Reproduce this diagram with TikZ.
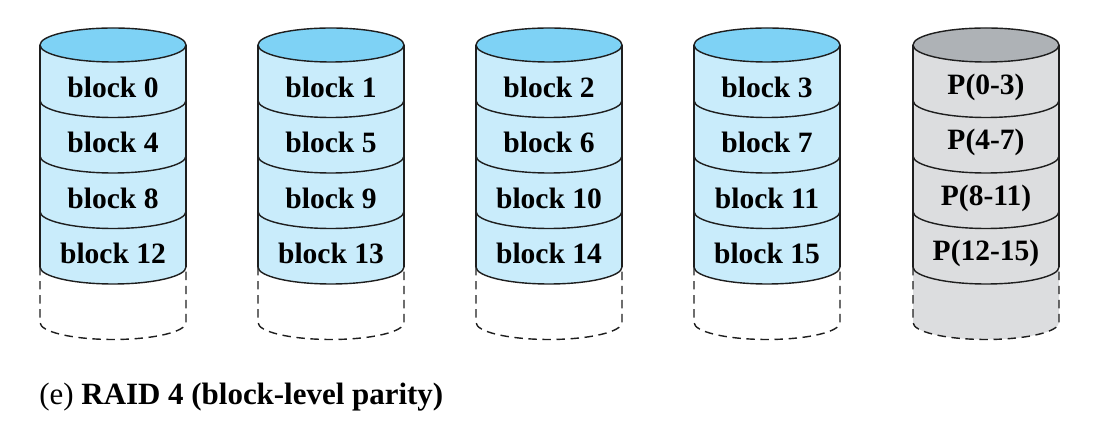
\documentclass[tikz,border=0pt]{standalone}
\usepackage{fontspec}
\setmainfont{Liberation Serif}
\usepackage{tikz}
\usetikzlibrary{positioning}
\usepackage{xcolor}
\definecolor{disktop}{HTML}{7ED2F5}
\definecolor{diskbody}{HTML}{C9ECFB}
\definecolor{paritytop}{HTML}{AEB2B6}
\definecolor{paritybody}{HTML}{DCDDDF}
\definecolor{diskrim}{HTML}{1E1E1E}

\begin{document}
\begin{tikzpicture}[x=0.025cm, y=0.025cm, line width=1pt,
  blocklbl/.style={font=\fontsize{21}{25}\selectfont\bfseries, text=black},
  spare/.style={dash pattern=on 6pt off 4pt}]
\useasboundingbox (0,0) rectangle (1110,426);
% four data disks
\foreach \d in {0,...,3} {
  \pgfmathsetmacro{\cx}{113+218*\d}
  \fill[diskbody] (\cx-73,381) -- (\cx-73,159) arc (180:360:73 and 17) -- (\cx+73,381) -- cycle;
  \draw[diskrim, spare] (\cx-73,159) -- (\cx-73,103.5) arc (180:360:73 and 17) -- (\cx+73,159);
  \draw[diskrim, fill=disktop] (\cx,381) ellipse (73 and 17);
  \foreach \r in {1,...,4}
    \draw[diskrim] (\cx-73,381-55.5*\r) arc (180:360:73 and 17);
  \draw[diskrim] (\cx-73,381) -- (\cx-73,159) (\cx+73,381) -- (\cx+73,159);
  \foreach \r in {0,...,3} {
    \pgfmathtruncatemacro{\b}{4*\r+\d}
    \node[blocklbl] (blk\b) at (\cx,381-55.5*\r-42) {block \b};
  }
}
% parity disk
\fill[paritybody] (913,381) -- (913,103.5) arc (180:360:73 and 17) -- (1059,381) -- cycle;
\draw[diskrim, spare] (913,159) -- (913,103.5) arc (180:360:73 and 17) -- (1059,159);
\draw[diskrim, fill=paritytop] (986,381) ellipse (73 and 17);
\foreach \r in {1,...,4}
  \draw[diskrim] (913,381-55.5*\r) arc (180:360:73 and 17);
\draw[diskrim] (913,381) -- (913,159) (1059,381) -- (1059,159);
\node[blocklbl] (par0) at (986,339) {P(0-3)};
\node[blocklbl] (par1) at (986,283.5) {P(4-7)};
\node[blocklbl] (par2) at (986,228) {P(8-11)};
\node[blocklbl] (par3) at (986,172.5) {P(12-15)};
% caption
\node[anchor=west, font=\fontsize{22}{26}\selectfont] (caption) at (34,29)
  {(e) \textbf{RAID 4 (block-level parity)}};
\end{tikzpicture}
\end{document}
